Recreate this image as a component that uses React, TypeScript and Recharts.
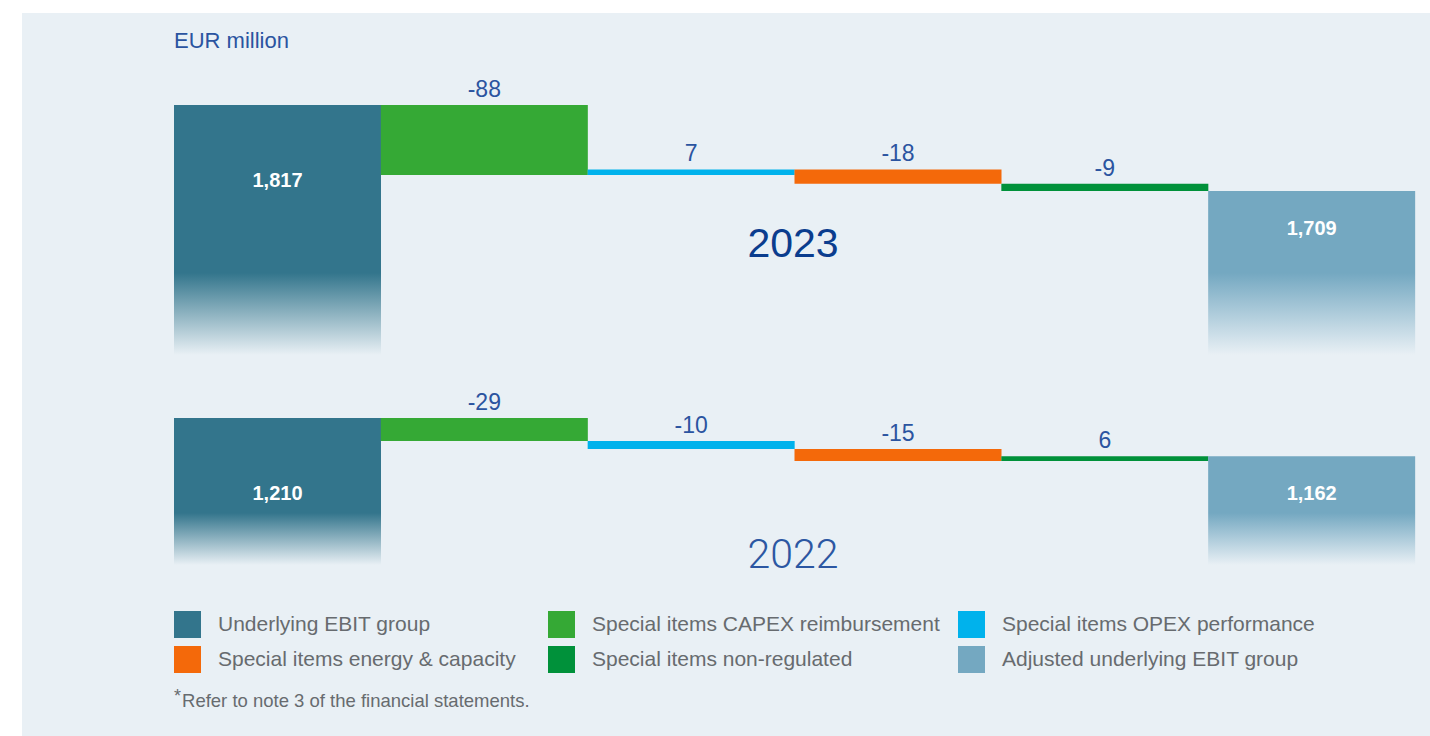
import React from 'react';
import { BarChart, Bar, XAxis, YAxis, Cell } from 'recharts';

const categories = [
  'Underlying EBIT group',
  'Special items CAPEX reimbursement',
  'Special items OPEX performance',
  'Special items energy & capacity',
  'Special items non-regulated',
  'Adjusted underlying EBIT group'
];
const colors = ['#33758c', '#35a935', '#00b2ec', '#f4690a', '#00913a', '#74a8c1'];

const values2023 = [1817, -88, 7, -18, -9, 1709];
const values2022 = [1210, -29, -10, -15, 6, 1162];

const FONT = '"Liberation Sans", Arial, sans-serif';
const BG = '#e9f0f5';
const LABEL_BLUE = '#2b54a0';
const PX_PER_UNIT = 0.796;
const MARGIN_TOP = 45;
const W = 1430;

// waterfall rows: totals go from the (cut) axis bottom, steps float
const buildRows = (values: number[], plotH: number) => {
  const cums: number[] = [];
  let run = values[0];
  cums.push(run);
  for (let i = 1; i < values.length - 1; i++) {
    run += values[i];
    cums.push(run);
  }
  const max = Math.max(...cums, values[values.length - 1]);
  const min = max - plotH / PX_PER_UNIT;
  const rows = values.map((v, i) => {
    if (i === 0 || i === values.length - 1) return { name: categories[i], range: [min, v] };
    const prev = cums[i - 1];
    const next = cums[i];
    return { name: categories[i], range: [Math.min(prev, next), Math.max(prev, next)] };
  });
  return { rows, domain: [min, max] };
};

const fmt = (v: number) => v.toLocaleString('en-US');

const Waterfall = ({ id, values, top, plotH, fadeLen }: any) => {
  const { rows, domain } = buildRows(values, plotH);
  const last = values.length - 1;

  const renderLabel = (props: any) => {
    const { x, y, width, height, index } = props;
    const barTop = Math.min(y, y + height);
    const cx = x + width / 2;
    if (index === 0 || index === last) {
      return (
        <text x={cx} y={barTop + (index === 0 ? 82 : 44)} textAnchor="middle" fill="#ffffff"
          fontFamily={FONT} fontSize={20} fontWeight={700}>
          {fmt(values[index])}
        </text>
      );
    }
    return (
      <text x={cx} y={barTop - 8} textAnchor="middle" fill={LABEL_BLUE} fontFamily={FONT} fontSize={23}>
        {fmt(values[index])}
      </text>
    );
  };

  const fadeEnd = MARGIN_TOP + plotH;

  return (
    <div style={{ position: 'absolute', left: 0, top: top - MARGIN_TOP }}>
      <BarChart
        width={W}
        height={MARGIN_TOP + plotH}
        data={rows}
        margin={{ top: MARGIN_TOP, right: 15, left: 174, bottom: 0 }}
        barCategoryGap={0}
        barGap={0}
      >
        <defs>
          {[0, last].map((i) => (
            <linearGradient key={i} id={`${id}-fade-${i}`} gradientUnits="userSpaceOnUse"
              x1={0} x2={0} y1={fadeEnd - fadeLen} y2={fadeEnd}>
              <stop offset="0%" stopColor={colors[i]} stopOpacity={1} />
              <stop offset="100%" stopColor={colors[i]} stopOpacity={0} />
            </linearGradient>
          ))}
        </defs>
        <XAxis dataKey="name" hide />
        <YAxis hide type="number" domain={domain} allowDataOverflow />
        <Bar dataKey="range" isAnimationActive={false} label={renderLabel}>
          {rows.map((r, i) => (
            <Cell key={`cell-${i}`}
              fill={i === 0 || i === last ? `url(#${id}-fade-${i})` : colors[i]} />
          ))}
        </Bar>
      </BarChart>
    </div>
  );
};

export default function App() {
  const legendCols = [174, 548, 958];
  const legendRows = [611, 646];
  return (
    <div style={{ position: 'absolute', left: 0, top: 0, width: W, height: 736, background: '#ffffff', overflow: 'hidden' }}>
      <div style={{ position: 'absolute', left: 22, top: 13, right: 0, bottom: 0, background: BG }} />

      <Waterfall id="y2023" values={values2023} top={105} plotH={250} fadeLen={82} />
      <Waterfall id="y2022" values={values2022} top={418} plotH={147} fadeLen={52} />

      <svg width={W} height={736} style={{ position: 'absolute', left: 0, top: 0, pointerEvents: 'none' }}>
        <text x={174} y={48} fontFamily={FONT} fontSize={22} fill={LABEL_BLUE}>EUR million</text>
        <text x={793} y={257} textAnchor="middle" fontFamily={FONT} fontSize={41} fill="#0b3d8e">2023</text>
        <text x={793} y={568} textAnchor="middle" fontFamily="Roboto, Arial, sans-serif" fontWeight={300}
          fontSize={41} fill="#2c57a2">2022</text>

        {categories.map((c, i) => {
          const x = legendCols[i % 3];
          const y = legendRows[Math.floor(i / 3)];
          return (
            <g key={c}>
              <rect x={x} y={y} width={27} height={27} fill={colors[i]} />
              <text x={x + 44} y={y + 20} fontFamily={FONT} fontSize={21} fill="#676b6f">{c}</text>
            </g>
          );
        })}

        <text x={174} y={707} fontFamily={FONT} fontSize={18.5} fill="#676b6f">
          <tspan fontSize={18} dy={-5}>*</tspan>
          <tspan dy={5} dx={1}>Refer to note 3 of the financial statements.</tspan>
        </text>
      </svg>
    </div>
  );
}
